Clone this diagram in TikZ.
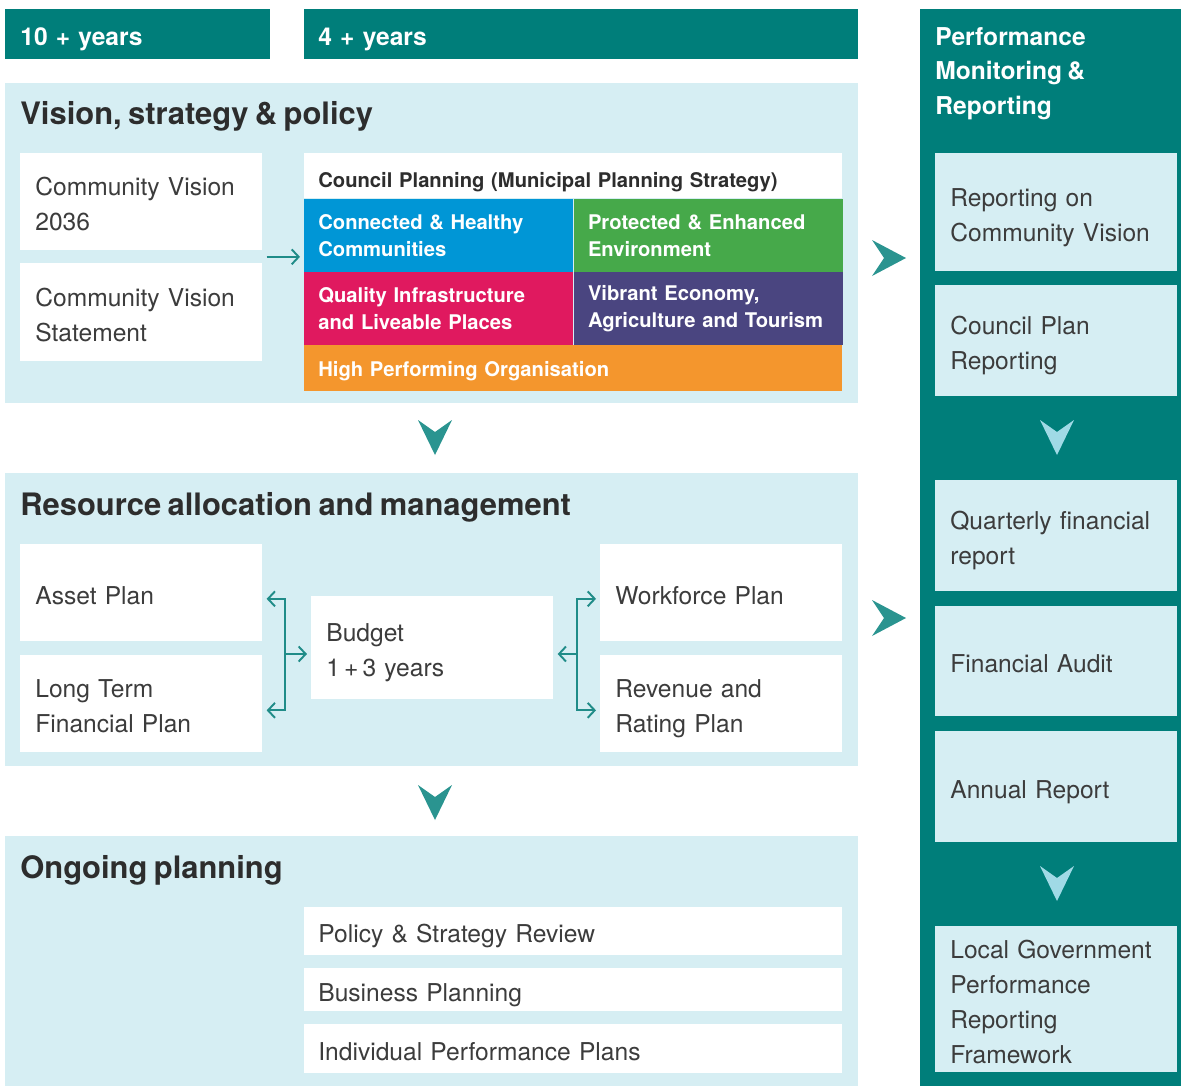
\documentclass[tikz,border=0pt]{standalone}
\usepackage{fontspec}
\setmainfont{TeX Gyre Heros}[WordSpace=0.75]
\usetikzlibrary{arrows.meta,calc}

\definecolor{hdteal}{RGB}{0,126,122}
\definecolor{paleblue}{RGB}{214,238,243}
\definecolor{chevteal}{RGB}{42,148,144}
\definecolor{chevpale}{RGB}{160,218,230}
\definecolor{linkteal}{RGB}{32,140,136}
\definecolor{txtgrey}{RGB}{60,60,60}
\definecolor{txtdark}{RGB}{45,45,45}
\definecolor{cpblue}{RGB}{0,150,214}
\definecolor{cpgreen}{RGB}{70,169,74}
\definecolor{cppink}{RGB}{224,25,95}
\definecolor{cppurple}{RGB}{74,69,128}
\definecolor{cporange}{RGB}{244,150,45}

\begin{document}
\begin{tikzpicture}[x=0.02cm,y=-0.02cm,
	struts/.style={execute at begin node={\rule{0pt}{17pt}},execute at end node={\rule[-4pt]{0pt}{4pt}}},
	hdr/.style={struts,fill=hdteal,text=white,anchor=north west,inner sep=0pt,minimum height=1cm,align=left,font=\fontsize{14}{18}\selectfont\bfseries},
	sec/.style={fill=paleblue,anchor=north west,inner sep=0pt,minimum width=17.06cm},
	sectitle/.style={anchor=west,inner sep=0pt,text=txtdark,font=\fontsize{17.6}{21}\selectfont\bfseries},
	cell/.style={struts,fill=white,anchor=north west,inner sep=0pt,minimum width=4.84cm,minimum height=1.94cm,text width=4.24cm,align=left,text=txtgrey,font=\fontsize{14}{19.9}\selectfont},
	wide/.style={cell,minimum width=10.76cm,text width=10.2cm},
	plan/.style={anchor=north west,inner sep=0pt,minimum width=5.38cm,minimum height=1.45cm,text width=4.82cm,align=left,text=white,font=\fontsize{11.5}{15.3}\selectfont\bfseries},
	rep/.style={cell,fill=paleblue},
	link/.style={draw=linkteal,line width=1.1pt,-{Straight Barb[length=0.14cm,width=0.3cm]},shorten >=0.08cm},
	chev/.style={fill=chevteal},
	chevlight/.style={fill=chevpale}]
	\useasboundingbox[fill=white] (0,0) rectangle (1181,1086);

	% headers and backgrounds
	\node[hdr,minimum width=5.3cm,text width=4.7cm] (ten) at (5,9) {10 + years};
	\node[hdr,minimum width=11.08cm,text width=10.52cm] (four) at (304,9) {4 + years};
	\node[fill=hdteal,anchor=north west,inner sep=0pt,minimum width=5.22cm,minimum height=21.54cm] (perf) at (920,9) {};
	\node[anchor=west,inner sep=0pt,align=left,text=white,font=\fontsize{14}{19.6}\selectfont\bfseries] (perftitle) at (935,73.5) {Performance\\Monitoring \&\\Reporting};
	\node[sec,minimum height=6.4cm] (vision) at (5,83) {};
	\node[sec,minimum height=5.86cm] (resource) at (5,473) {};
	\node[sec,minimum height=5cm] (ongoing) at (5,836) {};

	% vision, strategy & policy
	\node[sectitle] (visiontitle) at (20,116) {Vision, strategy \& policy};
	\node[cell] (cv) at (20,153) {Community Vision\\2036};
	\node[cell,minimum height=1.96cm] (cvs) at (20,263) {Community Vision\\Statement};
	\node[wide,minimum height=0.9cm,text=txtdark,font=\fontsize{11.5}{15.3}\selectfont\bfseries,
		execute at begin node={\rule{0pt}{12pt}},execute at end node={}] (council) at (304,153) {Council Planning (Municipal Planning Strategy)};
	\node[plan,fill=cpblue] (blue) at (council.south west) {Connected \& Healthy\\Communities};
	\node[plan,fill=cpgreen] (green) at (blue.north east) {Protected \& Enhanced\\Environment};
	\node[plan,fill=cppink] (pink) at (blue.south west) {Quality Infrastructure\\and Liveable Places};
	\node[plan,fill=cppurple] (purple) at (pink.north east) {Vibrant Economy,\\Agriculture and Tourism};
	\node[plan,fill=cporange,minimum width=10.76cm,text width=10.2cm,minimum height=0.92cm,
		execute at begin node={\rule{0pt}{12pt}}] (orange) at (pink.south west) {High Performing Organisation};
	\coordinate (cvmid) at ($(cv.south east)!0.5!(cvs.north east)$);
	\draw[link] ([xshift=0.08cm]cvmid) -- (cvmid -| blue.west);

	% resource allocation
	\node[sectitle] (resourcetitle) at (20,507) {Resource allocation and management};
	\node[cell] (asset) at (20,544) {Asset Plan};
	\node[cell] (ltfp) at (20,655) {Long Term\\Financial Plan};
	\node[cell,minimum height=2.06cm] (budget) at (311,596) {Budget\\1\,+\,3 years};
	\node[cell] (workforce) at (600,544) {Workforce Plan};
	\node[cell] (revenue) at (600,655) {Revenue and\\Rating Plan};
	\coordinate (lbar) at (285,654);
	\coordinate (rbar) at (577,654);
	\draw[link] (lbar) |- ([yshift=-0.12cm]asset.east);
	\draw[link] (lbar) |- ([yshift=-0.13cm]ltfp.east);
	\draw[link] (lbar) -- (lbar -| budget.west);
	\draw[link] (rbar) |- ([yshift=-0.12cm]workforce.west);
	\draw[link] (rbar) |- ([yshift=-0.13cm]revenue.west);
	\draw[link] (rbar) -- (rbar -| budget.east);

	% ongoing planning
	\node[sectitle] (ongoingtitle) at (20,870) {Ongoing planning};
	\node[wide,minimum height=0.96cm] (review) at (304,907) {Policy \& Strategy Review};
	\node[wide,minimum height=0.86cm] (business) at (304,968) {Business Planning};
	\node[wide,minimum height=0.98cm] (individual) at (304,1024) {Individual Performance Plans};

	% performance monitoring & reporting
	\node[rep,minimum height=2.36cm] (repcv) at (935,153) {Reporting on\\Community Vision};
	\node[rep,minimum height=2.22cm] (repcp) at (935,285) {Council Plan\\Reporting};
	\node[rep,minimum height=2.22cm] (quarter) at (935,480) {Quarterly financial\\report};
	\node[rep,minimum height=2.2cm] (audit) at (935,606) {Financial Audit};
	\node[rep,minimum height=2.22cm] (annual) at (935,731) {Annual Report};
	\node[rep,minimum height=2.92cm] (lgprf) at (935,926) {Local Government\\Performance\\Reporting\\Framework};

	% chevrons
	\foreach \cy in {420,785}
		\fill[chev] (418,\cy) -- (435,\cy+12) -- (452,\cy) -- (435,\cy+35) -- cycle;
	\foreach \cy in {240,600}
		\fill[chev] (872,\cy) -- (906,\cy+18) -- (872,\cy+36) -- (884,\cy+18) -- cycle;
	\foreach \cy in {420,866}
		\fill[chevlight] (1040,\cy) -- (1057,\cy+12) -- (1074,\cy) -- (1057,\cy+35) -- cycle;
\end{tikzpicture}
\end{document}
